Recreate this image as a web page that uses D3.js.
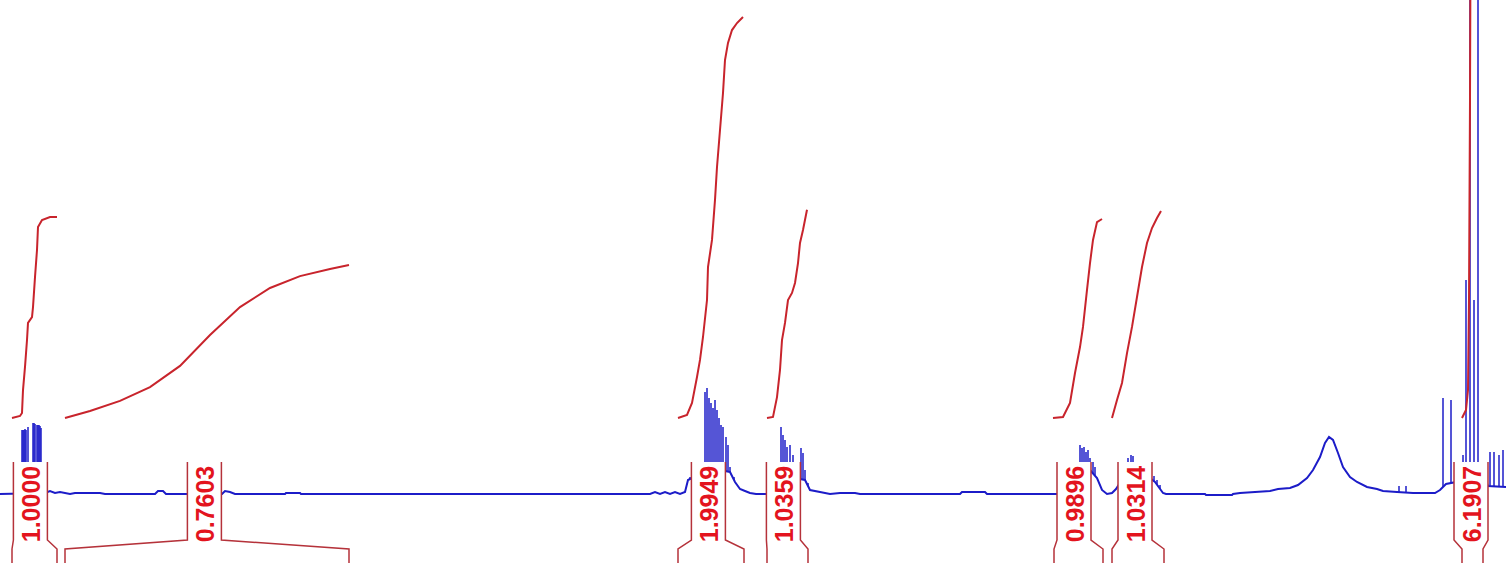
<!DOCTYPE html>
<html>
<head>
<meta charset="utf-8">
<script src="https://cdn.jsdelivr.net/npm/d3@7"></script>
<style>
  body { margin: 0; background: #fff; }
  svg { display: block; }
</style>
</head>
<body>
<div class="chart"></div>
<script>
// 1H spectrum: [shift (ppm), intensity]
const baseline = [
  [8.00, 0], [7.775, 0.2], [7.75, 0.6], [7.725, 0.2], [7.70, 0.4], [7.65, 0], [7.625, 0.2], [7.50, 0.2],
  [7.475, 0], [7.225, 0], [7.21, 0.6], [7.185, 0.6], [7.17, 0], [6.89, 0], [6.875, 0.6], [6.85, 0.4],
  [6.825, 0], [6.575, 0], [6.57, 0.2], [6.50, 0.2], [6.495, 0], [4.75, 0], [4.725, 0.4], [4.70, 0],
  [4.675, 0.4], [4.65, 0], [4.625, 0.4], [4.60, 0], [4.575, 0.4], [4.56, 2.8], [4.54, 3.2], [4.525, 1.6],
  [4.50, 2.0], [4.40, 4.8], [4.35, 4.4], [4.325, 2.4], [4.30, 1.0], [4.275, 0.6], [4.25, 0.2], [4.22, 0],
  [4.125, 0], [4.10, 1.2], [4.025, 3.2], [3.975, 2.8], [3.95, 0.8], [3.90, 0.4], [3.85, 0], [3.80, 0.2],
  [3.725, 0.2], [3.70, 0], [3.20, 0], [3.19, 0.4], [3.075, 0.4], [3.065, 0], [2.625, 0], [2.60, 2.8],
  [2.55, 4.8], [2.515, 3.2], [2.49, 0.8], [2.465, 0], [2.44, 0.2], [2.42, 1.0], [2.375, 3.8], [2.30, 4.8],
  [2.225, 2.4], [2.185, 0.2], [2.17, 0], [1.975, 0], [1.97, -0.2], [1.84, -0.2], [1.835, 0], [1.80, 0.2],
  [1.65, 0.6], [1.61, 1.0], [1.55, 1.2], [1.51, 1.8], [1.465, 3.2], [1.435, 4.8], [1.40, 7.4], [1.375, 10.2],
  [1.355, 11.4], [1.335, 10.8], [1.31, 8.2], [1.285, 5.4], [1.25, 3.4], [1.215, 2.4], [1.165, 1.4],
  [1.115, 1.0], [1.085, 0.6], [1.015, 0.4], [0.935, 0.2], [0.825, 0.2], [0.80, 0.8], [0.77, 2.0],
  [0.72, 2.4], [0.69, 4.8], [0.58, 3.8], [0.56, 1.6], [0.47, 1.4]
];

// resolved lines: [shift (ppm), top intensity]
const peaks = [
  [7.89, 12.8], [7.885, 12.8], [7.88, 12.8], [7.875, 13.0], [7.87, 12.8], [7.86, 13.4], [7.835, 14.2],
  [7.83, 14.2], [7.825, 14.0], [7.815, 13.8], [7.81, 13.8], [7.805, 13.8], [7.80, 13.6], [7.795, 13.2],
  [4.55, 3.4], [4.475, 20.4], [4.465, 21.2], [4.455, 19.2], [4.445, 18.2], [4.435, 17.2], [4.425, 18.8],
  [4.415, 16.8], [4.405, 15.2], [4.395, 13.8], [4.385, 13.4], [4.37, 11.4], [4.36, 9.8], [4.35, 5.4], [4.33, 3.4],
  [4.095, 13.4], [4.085, 11.8], [4.075, 10.8], [4.065, 9.4], [4.05, 9.8], [4.035, 7.8], [3.995, 9.2],
  [3.985, 8.2], [3.975, 4.8], [3.96, 2.2],
  [2.60, 9.8], [2.59, 9.2], [2.58, 9.4], [2.57, 8.4], [2.56, 8.8], [2.55, 7.2], [2.535, 6.4], [2.525, 5.4],
  [2.36, 7.2], [2.345, 7.8], [2.335, 7.6], [2.32, 6.4], [2.305, 5.8], [2.29, 5.2], [2.275, 5.2], [2.26, 4.8],
  [2.245, 4.0], [2.23, 3.6], [2.215, 2.8], [2.20, 1.8],
  [1.005, 1.6], [0.97, 1.6], [0.785, 19.2], [0.745, 18.8], [0.685, 7.8], [0.67, 42.8], [0.65, 110],
  [0.63, 38.8], [0.61, 110], [0.585, 6.4], [0.55, 8.4], [0.53, 8.4], [0.505, 7.8], [0.485, 8.8]
];

const integralValues = [1.0000, 0.7603, 1.9949, 1.0359, 0.9896, 1.0314, 6.1907];
const integralRanges = [
  [7.94, 7.715], [7.675, 6.255], [4.61, 4.28], [4.165, 3.96], [2.73, 2.485], [2.44, 2.18], [0.69, 0.585]
];
const integralLabelAt = [7.848, 6.978, 4.458, 4.083, 2.63, 2.325, 0.645];

// running integral curves: [shift (ppm), cumulative area]
const integralCurves = [
  [[7.94, 0], [7.90, 0.01], [7.89, 0.025], [7.885, 0.139], [7.875, 0.254], [7.865, 0.388], [7.86, 0.473],
   [7.84, 0.502], [7.835, 0.552], [7.825, 0.701], [7.815, 0.836], [7.81, 0.95], [7.79, 0.985], [7.75, 1.0], [7.715, 1.0]],
  [[7.675, 0], [7.55, 0.035], [7.40, 0.085], [7.25, 0.154], [7.10, 0.259], [6.95, 0.413], [6.80, 0.552],
   [6.65, 0.647], [6.50, 0.706], [6.35, 0.741], [6.255, 0.761]],
  [[4.61, 0], [4.565, 0.015], [4.54, 0.075], [4.515, 0.204], [4.50, 0.289], [4.485, 0.403], [4.465, 0.587],
   [4.46, 0.751], [4.44, 0.886], [4.425, 1.085], [4.415, 1.249], [4.40, 1.433], [4.385, 1.617], [4.375, 1.781],
   [4.36, 1.866], [4.34, 1.93], [4.315, 1.965], [4.285, 1.995]],
  [[4.165, 0], [4.135, 0.005], [4.115, 0.104], [4.10, 0.239], [4.09, 0.388], [4.075, 0.473], [4.06, 0.587],
   [4.04, 0.622], [4.025, 0.672], [4.01, 0.771], [4.00, 0.871], [3.985, 0.935], [3.965, 1.036]],
  [[2.735, 0], [2.685, 0.005], [2.65, 0.075], [2.625, 0.224], [2.60, 0.353], [2.585, 0.453], [2.565, 0.637],
   [2.55, 0.771], [2.535, 0.886], [2.515, 0.975], [2.49, 0.99]],
  [[2.44, 0], [2.415, 0.09], [2.39, 0.174], [2.365, 0.323], [2.34, 0.453], [2.315, 0.602], [2.29, 0.751],
   [2.265, 0.871], [2.24, 0.945], [2.215, 0.995], [2.195, 1.03]],
  [[0.69, 0], [0.67, 0.04], [0.66, 0.139], [0.655, 0.587], [0.65, 1.582], [0.645, 3.075], [0.62, 6.19]]
];

const width = 1506;
const height = 563;

const svg = d3.select('.chart')
  .append('svg')
  .attr('width', width)
  .attr('height', height)
  .style('background', '#fff');

const x = d3.scaleLinear().domain([8.0, 0.47]).range([0, width]);
const y = d3.scaleLinear().domain([0, 100]).range([494, -6]);
const yInt = d3.scaleLinear().domain([0, 1]).range([418, 217]);

const blue = '#1c1cc8';
const red = '#c8242c';

// intensity of the envelope under a line, so each stick starts on the trace
function baseAt(ppm) {
  for (let i = 0; i < baseline.length - 1; i++) {
    const a = baseline[i], b = baseline[i + 1];
    if (ppm <= a[0] && ppm >= b[0]) {
      const t = (a[0] - ppm) / (a[0] - b[0]);
      return a[1] + t * (b[1] - a[1]);
    }
  }
  return 0;
}

const line = d3.line()
  .x(d => x(d[0]))
  .y(d => y(d[1]));

svg.append('path')
  .datum(baseline)
  .attr('d', line)
  .attr('fill', 'none')
  .attr('stroke', blue)
  .attr('stroke-width', 2);

svg.append('g')
  .selectAll('line')
  .data(peaks)
  .enter()
  .append('line')
  .attr('x1', d => x(d[0]))
  .attr('x2', d => x(d[0]))
  .attr('y1', d => y(baseAt(d[0])))
  .attr('y2', d => y(d[1]))
  .attr('stroke', blue)
  .attr('stroke-width', 1.5);

// integral brackets with labels
const boxTop = 462, boxFoot = 540, legFoot = 549, half = 17;
const brackets = svg.append('g');

integralValues.forEach((v, i) => {
  const xc = x(integralLabelAt[i]);
  const a = x(integralRanges[i][0]);
  const b = x(integralRanges[i][1]);

  brackets.append('rect')
    .attr('x', xc - half)
    .attr('y', boxTop)
    .attr('width', half * 2)
    .attr('height', height - boxTop)
    .attr('fill', '#fff');

  brackets.append('path')
    .attr('d', `M${xc - half},${boxTop}L${xc - half},${boxFoot}L${a},${legFoot}L${a},${height + 5}` +
      `M${xc + half},${boxTop}L${xc + half},${boxFoot}L${b},${legFoot}L${b},${height + 5}`)
    .attr('fill', 'none')
    .attr('stroke', '#b5323a')
    .attr('stroke-width', 1.5);

  brackets.append('text')
    .attr('transform', `translate(${xc + 1}, 504) rotate(-90)`)
    .attr('text-anchor', 'middle')
    .attr('dominant-baseline', 'central')
    .style('font-family', '"Liberation Sans", Arial, sans-serif')
    .style('font-weight', 'bold')
    .style('font-size', '25px')
    .style('fill', '#e3141e')
    .text(d3.format('.4f')(v));
});

const intLine = d3.line()
  .x(d => x(d[0]))
  .y(d => yInt(d[1]));

svg.append('g')
  .selectAll('path')
  .data(integralCurves)
  .enter()
  .append('path')
  .attr('d', intLine)
  .attr('fill', 'none')
  .attr('stroke', red)
  .attr('stroke-width', 2);
</script>
</body>
</html>
